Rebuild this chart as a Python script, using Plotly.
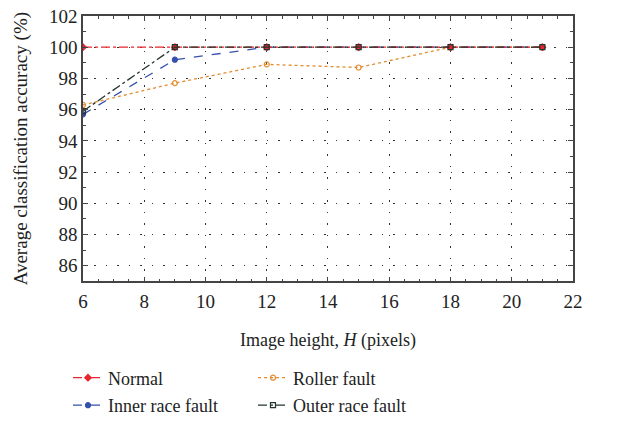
import plotly.graph_objects as go

heights = [6, 9, 12, 15, 18, 21]
normal = [100, 100, 100, 100, 100, 100]
inner = [95.7, 99.2, 100, 100, 100, 100]
roller = [96.3, 97.7, 98.9, 98.7, 100, 100]
outer = [95.9, 100, 100, 100, 100, 100]

font = "Liberation Serif"
fig = go.Figure()
# name, values, colour, dash, marker, legend id
series = {
    "Normal": (normal, "#e8242c", "dashdot", "diamond", "legend"),
    "Inner race fault": (inner, "#3550ad", "dash", "circle", "legend2"),
    "Roller fault": (roller, "#e38b2e", "dot", "circle-open", "legend3"),
    "Outer race fault": (outer, "#25342c", "dashdot", "square-open", "legend4"),
}
for name in ["Roller fault", "Inner race fault", "Normal", "Outer race fault"]:
    ys, col, dash, sym, leg = series[name]
    fig.add_trace(go.Scatter(
        x=heights, y=ys, name=name, mode="lines+markers",
        line=dict(color=col, dash=dash, width=1.3),
        marker=dict(color=col, symbol=sym, size=5, line=dict(color=col, width=1.2)),
        legend=leg, showlegend=True,
    ))

axis_common = dict(
    showline=True, linecolor="#444", linewidth=1.5, mirror="ticks",
    ticks="inside", ticklen=5, tickcolor="#444",
    showgrid=True, gridcolor="#333", griddash="1.5px,10px", gridwidth=1,
    zeroline=False, automargin=False,
    tickfont=dict(family=font, size=19, color="#222"),
)
fig.update_xaxes(range=[6, 22], dtick=2, tick0=6, ticklabelstandoff=2,
                 domain=[0.12966, 1],
                 minor=dict(ticks="inside", ticklen=3, dtick=0.5, tickcolor="#444", showgrid=False),
                 title=dict(text="Image height, <i>H</i> (pixels)", font=dict(family=font, size=18, color="#222"), standoff=22),
                 **axis_common)
fig.update_yaxes(range=[85, 102], dtick=2, tick0=86,
                 domain=[0.348, 1],
                 minor=dict(ticks="inside", ticklen=3, dtick=1, tickcolor="#444", showgrid=False),
                 title=dict(text="Average classification accuracy (%)", font=dict(family=font, size=19, color="#222"), standoff=16),
                 **axis_common)

leg_common = dict(orientation="v", xanchor="left", yanchor="middle",
                  font=dict(family=font, size=18, color="#222"),
                  itemwidth=30, bgcolor="rgba(0,0,0,0)")
fig.update_layout(
    width=621, height=424, showlegend=True,
    margin=dict(l=10, r=48, t=16, b=0),
    plot_bgcolor="rgba(0,0,0,0)", paper_bgcolor="white",
    legend=dict(x=0.103, y=0.1127, **leg_common),
    legend2=dict(x=0.103, y=0.0441, **leg_common),
    legend3=dict(x=0.4316, y=0.1127, **leg_common),
    legend4=dict(x=0.4316, y=0.0441, **leg_common),
)
fig.write_html("out.html", post_script="document.body.style.margin='0';",
               config={"displayModeBar": False})
